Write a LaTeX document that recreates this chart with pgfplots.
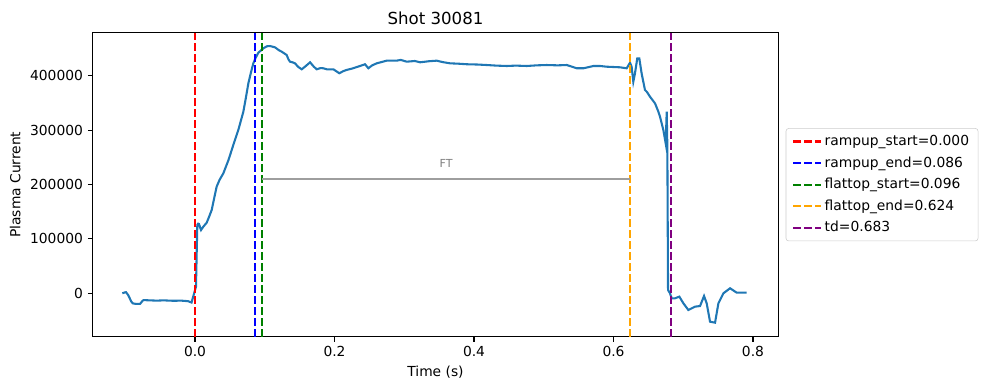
\documentclass[border=0pt]{standalone}
\usepackage{fontspec}
\setmainfont{DejaVu Sans}
\usepackage{pgfplots}
\pgfplotsset{compat=1.18}
\definecolor{C0}{HTML}{1F77B4}
\definecolor{mplgreen}{HTML}{008000}
\definecolor{mplorange}{HTML}{FFA500}
\definecolor{mplpurple}{HTML}{800080}
\definecolor{ftgray}{HTML}{9E9E9E}
\tikzset{mpldash/.style={dash pattern=on 5.55pt off 2.4pt, line width=1.5pt}}
\begin{document}
\begin{tikzpicture}
\useasboundingbox (-0.927in,-0.533in) rectangle (8.963in,3.367in);
\begin{axis}[
  at={(0,0)}, anchor=south west,
  scale only axis, width=6.856in, height=3.04in,
  xmin=-0.1467, xmax=0.8363, ymin=-79800, ymax=479000,
  xtick={0,0.2,0.4,0.6,0.8}, xticklabels={0.0,0.2,0.4,0.6,0.8},
  ytick={0,100000,200000,300000,400000}, yticklabels={0,100000,200000,300000,400000},
  scaled y ticks=false,
  /pgf/number format/assume math mode=true,
  tick align=outside, xtick pos=bottom, ytick pos=left, major tick length=3.5pt,
  tick style={black, line width=0.8pt}, axis line style={line width=0.8pt},
  every tick label/.append style={font=\fontsize{10}{12}\selectfont},
  title={Shot 30081},
  title style={font=\fontsize{12}{14}\selectfont, at={(0.5,1)}, anchor=base, inner sep=0pt},
  xlabel={Time (s)}, ylabel={Plasma Current},
  label style={font=\fontsize{10}{12}\selectfont},
  legend cell align=left,
  legend image code/.code={\draw[#1] (0pt,0pt) -- (20pt,0pt);},
  legend style={at={(1.0108,0.5)}, anchor=west, draw=black!20, rounded corners=2pt,
    font=\fontsize{10}{12}\selectfont, row sep=2.5pt, inner xsep=4.5pt, inner ysep=3pt},
]
\addplot[C0, line width=1.5pt, forget plot] coordinates {
(-0.1042,0) (-0.1010,1500) (-0.0989,2000) (-0.0960,-3000) (-0.0940,-8000) (-0.0915,-15000)
(-0.0894,-18400) (-0.0850,-19500) (-0.0788,-19600) (-0.0760,-15000) (-0.0740,-12500)
(-0.0650,-13000) (-0.0549,-13500) (-0.0450,-13000) (-0.0310,-13800) (-0.0200,-13500)
(-0.0100,-14500) (-0.0050,-17000) (-0.0015,-1200) (0.0014,12300) (0.0025,80000)
(0.0033,126000) (0.0045,128000) (0.0057,127300) (0.0086,116300) (0.0119,122400)
(0.0167,129700) (0.0200,140000) (0.0239,153000) (0.0280,178000) (0.0310,196000)
(0.0350,208000) (0.0406,220500) (0.0480,245000) (0.0549,272600) (0.0621,300200)
(0.0693,333800) (0.0730,360000) (0.0765,386000) (0.0800,405000) (0.0836,422700)
(0.0870,433000) (0.0908,442200) (0.0980,450300) (0.1030,454000) (0.1075,454500)
(0.1147,452100) (0.1200,447000) (0.1243,444100) (0.1314,438000) (0.1340,430000)
(0.1362,425700) (0.1400,424500) (0.1434,422700) (0.1480,416000) (0.1530,411700)
(0.1590,418000) (0.1650,424600) (0.1700,417000) (0.1745,411700) (0.1800,414000)
(0.1840,413600) (0.1890,411700) (0.1984,411700) (0.2069,404400) (0.2120,408000)
(0.2170,410400) (0.2250,413000) (0.2366,417800) (0.2437,421000) (0.2485,413600)
(0.2540,419000) (0.2605,422700) (0.2748,427600) (0.2890,427600) (0.2950,429000)
(0.3035,425700) (0.3150,427000) (0.3227,424600) (0.3350,426500) (0.3465,427600)
(0.3550,425000) (0.3657,422700) (0.3780,422000) (0.3896,421000) (0.4050,420500)
(0.4183,419600) (0.4320,418500) (0.4470,417800) (0.4600,418500) (0.4757,417800)
(0.4900,419000) (0.5043,419600) (0.5200,419000) (0.5330,419600) (0.5473,413600)
(0.5570,413600) (0.5712,417800) (0.5808,417800) (0.5902,416500) (0.6093,415400)
(0.6189,413600) (0.6237,423900) (0.6260,416500) (0.6284,388900) (0.6308,404400)
(0.6341,431900) (0.6370,431900) (0.6403,404400) (0.6451,373700) (0.6480,370000)
(0.6523,361400) (0.6595,349200) (0.6640,335000) (0.6667,324600) (0.6715,300100)
(0.6748,275700) (0.6763,333800) (0.6772,269500) (0.6782,6100) (0.6810,0)
(0.6834,-9200) (0.6882,-9200) (0.6944,-6200) (0.7002,-18400) (0.7073,-30700)
(0.7169,-24600) (0.7241,-23400) (0.7298,-5000) (0.7336,-18400) (0.7384,-52200)
(0.7456,-54000) (0.7504,-18400) (0.7576,0) (0.7671,9200) (0.7767,1100) (0.7910,1100)
};
\addplot[red, mpldash] coordinates {(0,-79800) (0,479000)};
\addlegendentry{rampup\_start=0.000}
\addplot[blue, mpldash] coordinates {(0.086,-79800) (0.086,479000)};
\addlegendentry{rampup\_end=0.086}
\addplot[mplgreen, mpldash] coordinates {(0.096,-79800) (0.096,479000)};
\addlegendentry{flattop\_start=0.096}
\addplot[mplorange, mpldash] coordinates {(0.624,-79800) (0.624,479000)};
\addlegendentry{flattop\_end=0.624}
\addplot[mplpurple, mpldash] coordinates {(0.683,-79800) (0.683,479000)};
\addlegendentry{td=0.683}
\addplot[ftgray, line width=2pt, forget plot] coordinates {(0.096,210000) (0.624,210000)};
\node[text=gray, font=\fontsize{8}{9}\selectfont] at (axis cs:0.36,239500) {FT};
\end{axis}
\end{tikzpicture}
\end{document}
